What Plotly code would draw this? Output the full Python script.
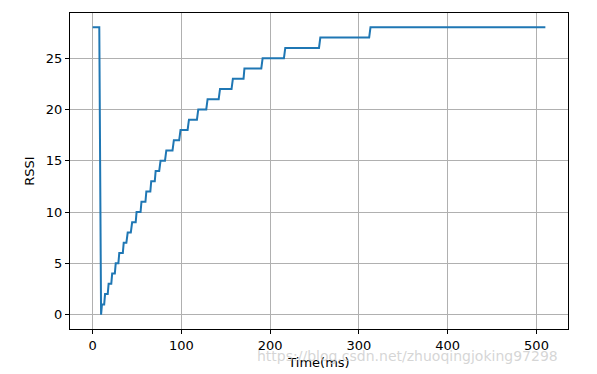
import plotly.graph_objects as go

time_ms = [0, 7.5, 9.5, 10.5, 13, 14, 17, 18, 21, 22, 25, 26, 29, 30, 34, 35, 38,
           39.5, 43, 44.5, 48.5, 49.5, 54, 55, 59.5, 60.5, 65, 66, 70, 71, 75,
           76.5, 81.5, 83, 90, 91.5, 97.5, 99, 107, 108.5, 117.5, 119, 128,
           129.5, 142, 143.5, 156.5, 158, 170, 171, 190, 191.5, 215.5, 217, 255,
           256.5, 311.5, 313, 510]
rssi = [28, 28, 0, 1, 1, 2, 2, 3, 3, 4, 4, 5, 5, 6, 6, 7, 7,
        8, 8, 9, 9, 10, 10, 11, 11, 12, 12, 13, 13, 14, 14,
        15, 15, 16, 16, 17, 17, 18, 18, 19, 19, 20, 20,
        21, 21, 22, 22, 23, 23, 24, 24, 25, 25, 26, 26,
        27, 27, 28, 28]

x_ticks = [0, 100, 200, 300, 400, 500]
y_ticks = [0, 5, 10, 15, 20, 25]

fig = go.Figure()
fig.add_trace(go.Scatter(x=time_ms, y=rssi, mode="lines",
                         line=dict(color="#1f77b4", width=2), showlegend=False))

axis_common = dict(showline=True, linecolor="black", linewidth=1, mirror=True,
                   ticks="outside", ticklen=4, tickwidth=1, tickcolor="black",
                   showgrid=True, gridcolor="#b0b0b0", gridwidth=1, zeroline=False,
                   automargin=False,
                   tickfont=dict(family="DejaVu Sans", size=13, color="black"))

fig.update_xaxes(range=[-25.5, 535.5], tickvals=x_ticks,
                 title=dict(text="Time(ms)", standoff=6,
                            font=dict(family="DejaVu Sans", size=13, color="black")),
                 **axis_common)
fig.update_yaxes(range=[-1.4, 29.4], tickvals=y_ticks,
                 title=dict(text="RSSI", standoff=8,
                            font=dict(family="DejaVu Sans", size=13, color="black")),
                 **axis_common)

fig.add_annotation(text="https://blog.csdn.net/zhuoqingjoking97298",
                   xref="paper", yref="paper", x=0.984, y=-0.085, xanchor="right",
                   yanchor="middle", showarrow=False,
                   font=dict(family="DejaVu Sans", size=14, color="rgba(200,200,200,0.75)"))

fig.update_layout(width=597, height=374, margin=dict(l=70, r=29, t=13, b=45),
                  paper_bgcolor="white", plot_bgcolor="white")

fig.write_html("out.html")
